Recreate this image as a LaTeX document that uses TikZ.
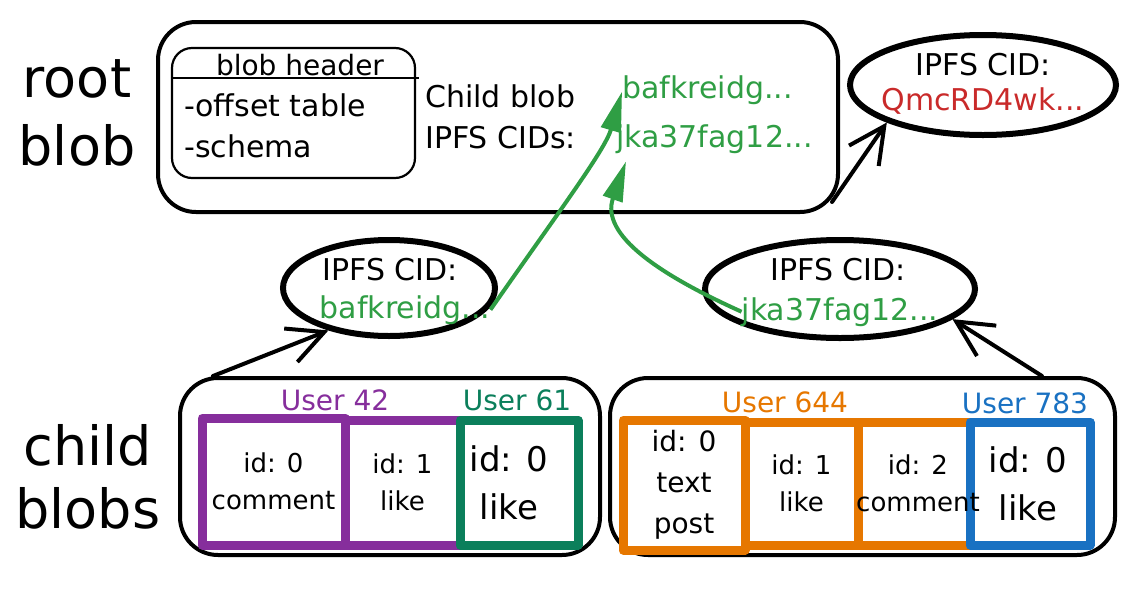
\documentclass[tikz,border=0pt]{standalone}
\usepackage{fontspec}
\setmainfont{DejaVu Sans}
\usetikzlibrary{arrows.meta,shapes.geometric}
\definecolor{UserViolet}{HTML}{862E9C}
\definecolor{UserTeal}{HTML}{0B7F5B}
\definecolor{UserOrange}{HTML}{E67700}
\definecolor{UserBlue}{HTML}{1971C2}
\definecolor{HashGreen}{HTML}{2F9E44}
\definecolor{CidRed}{HTML}{C92A2A}

\begin{document}
\begin{tikzpicture}[x=1pt,y=-1pt]
\useasboundingbox (0,0) rectangle (1143,592);
\tikzset{BlobStyle/.style={draw,line width=4pt,rounded corners=38pt,inner sep=0pt}}
\tikzset{HeaderStyle/.style={draw,line width=2.2pt,rounded corners=20pt,inner sep=0pt}}
\tikzset{CidStyle/.style={draw,ellipse,line width=6pt,inner sep=0pt}}
\tikzset{CellStyle/.style={draw=#1,line width=9pt,line join=round,inner sep=0pt}}
\tikzset{Txt/.style={font=\fontsize{30}{36}\selectfont,inner sep=0pt}}
\tikzset{UserTxt/.style={font=\fontsize{28}{34}\selectfont,inner sep=0pt}}
\tikzset{BigTxt/.style={font=\fontsize{54}{60}\selectfont,inner sep=0pt}}
\tikzset{CellTxt/.style={align=center,inner sep=0pt,font=\fontsize{26}{37}\selectfont}}
\tikzset{CellBigTxt/.style={align=center,inner sep=0pt,font=\fontsize{34}{48}\selectfont}}
\tikzset{LinkStyle/.style={line width=4pt,line cap=round,-{Straight Barb[length=36pt,width=36pt,line width=4pt]}}}
\tikzset{HashLink/.style={draw=HashGreen,line width=4pt,-{Triangle[length=40pt,width=20pt]},HashGreen}}

\node[BigTxt,anchor=base] (lblroot) at (77,97) {root};
\node[BigTxt,anchor=base] (lblblob) at (77,165) {blob};
\node[BigTxt,anchor=base] (lblchild) at (88,465) {child};
\node[BigTxt,anchor=base] (lblblobs) at (88,528) {blobs};

\node[BlobStyle,minimum width=680pt,minimum height=190pt] (root) at (498,117) {};
\node[HeaderStyle,minimum width=243pt,minimum height=130pt] (header) at (293.5,113) {};
\draw[line width=2.2pt] (header.west |- 0,78) -- ([xshift=3pt]header.east |- 0,78);
\node[UserTxt,anchor=base] (headtitle) at (300,75) {blob header};
\node[Txt,anchor=base west] (offset) at (184,116) {-offset table};
\node[Txt,anchor=base west] (schema) at (184,157) {-schema};
\node[Txt,anchor=base west] (childcids) at (425,107) {Child blob};
\node[Txt,anchor=base west] (childcids2) at (425,148) {IPFS CIDs:};
\node[Txt,anchor=base west,text=HashGreen] (hashA) at (622,98) {bafkreidg...};
\node[Txt,anchor=base west,text=HashGreen] (hashB) at (616,147) {jka37fag12...};

\node[CidStyle,minimum width=266pt,minimum height=100pt] (rootcid) at (983,85) {};
\node[Txt,anchor=base] (rootcidlbl) at (983,75) {IPFS CID:};
\node[Txt,anchor=base,text=CidRed] (rootcidhash) at (983,110) {QmcRD4wk...};

\node[CidStyle,minimum width=212pt,minimum height=96pt] (cidL) at (389,288) {};
\node[Txt,anchor=base] (cidLlbl) at (390,280) {IPFS CID:};
\node[Txt,anchor=base,text=HashGreen] (hashL) at (405,318) {bafkreidg...};

\node[CidStyle,minimum width=270pt,minimum height=98pt] (cidR) at (840,289) {};
\node[Txt,anchor=base] (cidRlbl) at (838,280) {IPFS CID:};
\node[Txt,anchor=base,text=HashGreen] (hashR) at (840,320) {jka37fag12...};

\node[BlobStyle,minimum width=420pt,minimum height=177pt] (childL) at (390,466.5) {};
\node[BlobStyle,minimum width=505pt,minimum height=177pt] (childR) at (862.5,466.5) {};

\node[UserTxt,anchor=base,text=UserViolet] (user42) at (335,410) {User 42};
\node[UserTxt,anchor=base,text=UserTeal] (user61) at (517,410) {User 61};
\node[UserTxt,anchor=base,text=UserOrange] (user644) at (785,412) {User 644};
\node[UserTxt,anchor=base,text=UserBlue] (user783) at (1025,413) {User 783};

\node[CellStyle=UserViolet,minimum width=143pt,minimum height=127pt] (c1) at (273.5,481.5) {};
\node[CellStyle=UserViolet,minimum width=115pt,minimum height=125pt] (c2) at (402.5,482.5) {};
\node[CellStyle=UserTeal,minimum width=118pt,minimum height=125pt] (c3) at (519,482.5) {};
\node[CellTxt] (c1txt) at (c1) {id: 0\\comment};
\node[CellTxt] (c2txt) at (c2) {id: 1\\like};
\node[CellBigTxt] (c3txt) at ([xshift=-10pt]c3) {id: 0\\like};

\node[CellStyle=UserOrange,minimum width=122pt,minimum height=130pt] (d1) at (684,485) {};
\node[CellStyle=UserOrange,minimum width=113pt,minimum height=123pt] (d2) at (801.5,483.5) {};
\node[CellStyle=UserOrange,minimum width=112pt,minimum height=123pt] (d3) at (914,483.5) {};
\node[CellStyle=UserBlue,minimum width=120pt,minimum height=123pt] (d4) at (1030,483.5) {};
\node[CellTxt,font=\fontsize{28}{41}\selectfont] (d1txt) at (d1) {id: 0\\text\\post};
\node[CellTxt] (d2txt) at (d2) {id: 1\\like};
\node[CellTxt] (d3txt) at ([xshift=4pt]d3) {id: 2\\comment};
\node[CellBigTxt] (d4txt) at ([xshift=-2pt]d4) {id: 0\\like};

\draw[LinkStyle] ([xshift=-8pt,yshift=12pt]root.south east) -- (rootcid.south west);
\draw[LinkStyle] ([xshift=35pt]childL.north west) -- (cidL.215);
\draw[LinkStyle] ([xshift=-75pt]childR.north east) -- (cidR.-15);
\draw[HashLink] (hashL.east) .. controls (560,210) and (605,150) .. ([yshift=-2pt]hashA.west);
\draw[HashLink] (hashR.west) .. controls (660,275) and (600,235) .. ([xshift=10pt,yshift=-8pt]hashB.south west);
\end{tikzpicture}
\end{document}
